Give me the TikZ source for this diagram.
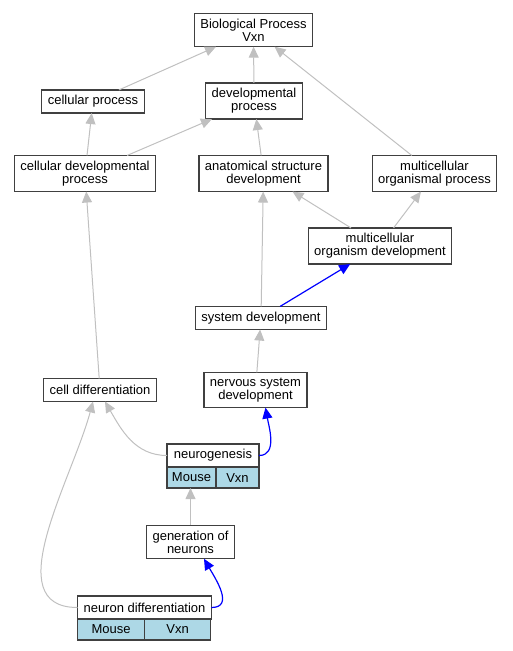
\documentclass[tikz,border=0pt]{standalone}
\usepackage{fontspec}
\setmainfont{Liberation Sans}
\usetikzlibrary{arrows.meta,positioning}

\definecolor{edgegray}{HTML}{C0C0C0}
\definecolor{cellblue}{HTML}{ADD8E6}
\definecolor{boxline}{HTML}{404040}

\begin{document}
\begin{tikzpicture}[x=1pt,y=1pt,>={Triangle[length=11pt,width=10pt]},thick,
                term node/.style={rectangle,draw=boxline,line width=1.2pt,fill=white,align=center,outer sep=0pt,
                  inner xsep=6pt,inner ysep=5.5pt,minimum height=23pt,font=\fontsize{13}{13}\selectfont},
                species cell/.style={term node,fill=cellblue,minimum height=21pt,inner xsep=3pt,inner ysep=4pt,anchor=north west},
                is a/.style={->,draw=edgegray,line width=1pt},
                part of/.style={->,draw=blue,line width=1.2pt}]

  \useasboundingbox (0,0) rectangle (512,-651);

  \node[term node] (bp)  at (253.5,-30)  {Biological Process\\Vxn};
  \node[term node] (cp)  at (93,-101.5)  {cellular process};
  \node[term node] (dp)  at (254,-101)   {developmental\\process};
  \node[term node] (cdp) at (85,-173.5)  {cellular developmental\\process};
  \node[term node] (asd) at (263.5,-173.5) {anatomical structure\\development};
  \node[term node] (mop) at (434.5,-173.5) {multicellular\\organismal process};
  \node[term node] (mod) at (380,-246)   {multicellular\\organism development};
  \node[term node] (sd)  at (261,-318)   {system development};
  \node[term node] (cd)  at (100,-390)   {cell differentiation};
  \node[term node] (nsd) at (255.5,-390) {nervous system\\development};

  % record: neurogenesis
  \node[term node,minimum width=92pt] (ng) at (213,-455.5) {neurogenesis};
  \node[species cell,minimum width=49pt] (ngmouse) at (ng.south west) {Mouse};
  \node[species cell,minimum width=43pt] (ngvxn) at (ngmouse.north east) {Vxn};

  \node[term node] (gen) at (190.5,-542) {generation of\\neurons};

  % record: neuron differentiation
  \node[term node,minimum width=133pt] (nd) at (144.5,-607.5) {neuron differentiation};
  \node[species cell,minimum width=67pt] (ndmouse) at (nd.south west) {Mouse};
  \node[species cell,minimum width=66pt] (ndvxn) at (ndmouse.north east) {Vxn};

  \draw[is a] (cp) -- (bp);
  \draw[is a] (dp) -- (bp);
  \draw[is a] (mop) -- (bp);
  \draw[is a] (cdp) -- (cp);
  \draw[is a] (cdp) -- (dp);
  \draw[is a] (asd) -- (dp);
  \draw[is a] (mod) -- (asd);
  \draw[is a] (mod) -- (mop);
  \draw[is a] (sd) -- (asd);
  \draw[part of] (sd) -- (mod);
  \draw[is a] (cd) -- (cdp);
  \draw[is a] (nsd) -- (sd);
  \draw[is a] (ng.west) to[out=180,in=-60] ([xshift=5pt]cd.south);
  \draw[part of] (ng.east) to[out=0,in=-80] ([xshift=10pt]nsd.south);
  \draw[is a] (gen) -- (gen |- ngmouse.south);
  \draw[is a] (nd.west) to[out=180,in=-105] ([xshift=-7pt]cd.south);
  \draw[part of] (nd.east) to[out=0,in=-60,looseness=1.2] ([xshift=13.5pt]gen.south);

\end{tikzpicture}
\end{document}
